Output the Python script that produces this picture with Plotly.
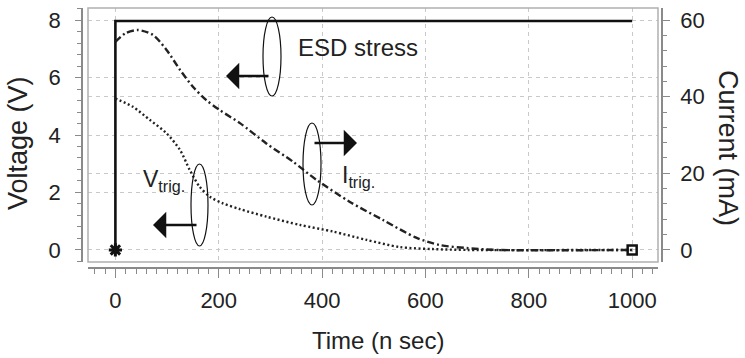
import plotly.graph_objects as go

# ---------------- data ----------------
t_esd = [0, 0, 1000]
v_esd = [0, 7.97, 7.97]

t_itrig = [0, 20, 44, 73, 99, 125, 150, 176, 202, 241, 292, 344, 389, 453, 518, 582, 627, 679, 740, 1000]
i_itrig = [54.3, 56.6, 57.4, 56.1, 52.2, 47.0, 42.6, 39.1, 36.5, 33.1, 27.8, 23.0, 18.3, 12.6, 7.8, 3.2, 1.3, 0.5, 0.0, 0.0]

t_vtrig = [0, 34, 67, 99, 125, 144, 163, 183, 208, 241, 292, 357, 421, 486, 550, 614, 680, 1000]
v_vtrig = [5.27, 4.98, 4.52, 4.06, 3.48, 2.78, 2.20, 1.85, 1.62, 1.42, 1.16, 0.87, 0.64, 0.35, 0.10, 0.03, 0.0, 0.0]

x_ticks = [0, 200, 400, 600, 800, 1000]
yl_ticks = [0, 2, 4, 6, 8]
yr_ticks = [0, 20, 40, 60]

W, H = 745, 358
def PX(x):
    return x / W
def PY(y):
    return 1 - y / H

AX = "#8a8a8a"
GRID = "#c9c9c9"
TXT = "#222222"
FONT = "Liberation Sans, Arial, sans-serif"

fig = go.Figure()
fig.add_trace(go.Scatter(x=t_esd, y=v_esd, mode="lines",
                         line=dict(color="#111", width=2.6), yaxis="y", showlegend=False))
fig.add_trace(go.Scatter(x=t_vtrig, y=v_vtrig, mode="lines", line_shape="spline", line_smoothing=0.8,
                         line=dict(color="#222", width=2.4, dash="2px,2.5px"), yaxis="y", showlegend=False))
fig.add_trace(go.Scatter(x=t_itrig, y=i_itrig, mode="lines", line_shape="spline", line_smoothing=0.8,
                         line=dict(color="#222", width=2.4, dash="7px,3px,2px,3px"), yaxis="y2", showlegend=False))
# end markers
fig.add_trace(go.Scatter(x=[t_esd[0]], y=[v_esd[0]], mode="markers",
                         marker=dict(symbol="asterisk-open", size=11, color="#111",
                                     line=dict(color="#111", width=3)),
                         yaxis="y", showlegend=False))
fig.add_trace(go.Scatter(x=[t_itrig[-1]], y=[i_itrig[-1]], mode="markers",
                         marker=dict(symbol="square-open", size=9, color="#111", line=dict(color="#111", width=2.5)),
                         yaxis="y2", showlegend=False))

xdom = [PX(88), PX(658)]
ydom = [PY(262), PY(8)]

tickfont = dict(family=FONT, size=22, color=TXT)

fig.update_layout(
    width=W, height=H,
    margin=dict(l=0, r=0, t=0, b=0),
    paper_bgcolor="white", plot_bgcolor="white",
    xaxis=dict(domain=xdom, range=[-53, 1050], anchor="free", position=PY(268),
               tickvals=x_ticks, ticks="outside", ticklen=9, tickcolor=AX, tickwidth=1.3,
               showline=True, linecolor=AX, linewidth=1.5,
               showgrid=True, gridcolor=GRID, griddash="4px,4px", gridwidth=1,
               zeroline=False, tickfont=tickfont, ticklabelstandoff=4,
               minor=dict(dtick=20, ticks="outside", ticklen=5, tickcolor=AX, showgrid=False)),
    yaxis=dict(domain=ydom, range=[-0.42, 8.42], anchor="free", position=PX(82),
               tickvals=yl_ticks, ticks="outside", ticklen=6, tickcolor=AX, tickwidth=1.3,
               showline=True, linecolor=AX, linewidth=1.5,
               showgrid=True, gridcolor=GRID, griddash="4px,4px", gridwidth=1,
               zeroline=False, tickfont=tickfont, ticklabelstandoff=10,
               minor=dict(dtick=0.4, ticks="outside", ticklen=4, tickcolor=AX, showgrid=False)),
    yaxis2=dict(range=[-3.15, 63.15], overlaying="y", side="right", anchor="free", position=PX(662),
                tickvals=yr_ticks, ticks="outside", ticklen=7, tickcolor=AX, tickwidth=1.3,
                showline=True, linecolor=AX, linewidth=1.5,
                showgrid=True, gridcolor=GRID, griddash="4px,4px", gridwidth=1,
                zeroline=False, tickfont=tickfont, ticklabelstandoff=6,
                minor=dict(dtick=4, ticks="outside", ticklen=4, tickcolor=AX, showgrid=False)),
)

shapes = [
    dict(type="rect", xref="paper", yref="paper", x0=xdom[0], x1=xdom[1], y0=ydom[0], y1=ydom[1],
         line=dict(color="#b0b0b0", width=1.5), layer="above"),
    dict(type="circle", xref="paper", yref="paper", x0=PX(263), x1=PX(281), y0=PY(96), y1=PY(17),
         line=dict(color="#111", width=1.2)),
    dict(type="circle", xref="paper", yref="paper", x0=PX(303), x1=PX(321), y0=PY(205), y1=PY(123),
         line=dict(color="#111", width=1.2)),
    dict(type="circle", xref="paper", yref="paper", x0=PX(191), x1=PX(208), y0=PY(246), y1=PY(164),
         line=dict(color="#111", width=1.2)),
]
fig.update_layout(shapes=shapes)

def arrow(tip_x, tail_x, y):
    fig.add_annotation(xref="paper", yref="paper", axref="pixel", ayref="pixel",
                       x=PX(tip_x), y=PY(y), ax=tail_x - tip_x, ay=0, text="",
                       showarrow=True, arrowhead=1, arrowsize=1.7, arrowwidth=2.6, arrowcolor="#111")

arrow(226, 270, 76)
arrow(357, 313, 143)
arrow(153, 198, 225)

def txt(s, x, y, size, xanchor="center", yanchor="middle", angle=0):
    fig.add_annotation(xref="paper", yref="paper", x=PX(x), y=PY(y), text=s, showarrow=False,
                       xanchor=xanchor, yanchor=yanchor, textangle=angle,
                       font=dict(family=FONT, size=size, color=TXT))

txt("ESD stress", 296, 47, 24, xanchor="left")
txt("V<sub>trig.</sub>", 141, 180, 23, xanchor="left")
txt("I<sub>trig.</sub>", 340, 177, 23, xanchor="left")
txt("Voltage (V)", 18, 143, 27, angle=-90)
txt("Current (mA)", 728, 148, 27, angle=90)
txt("Time (n sec)", 378, 340, 24)

fig.write_html("out.html")
